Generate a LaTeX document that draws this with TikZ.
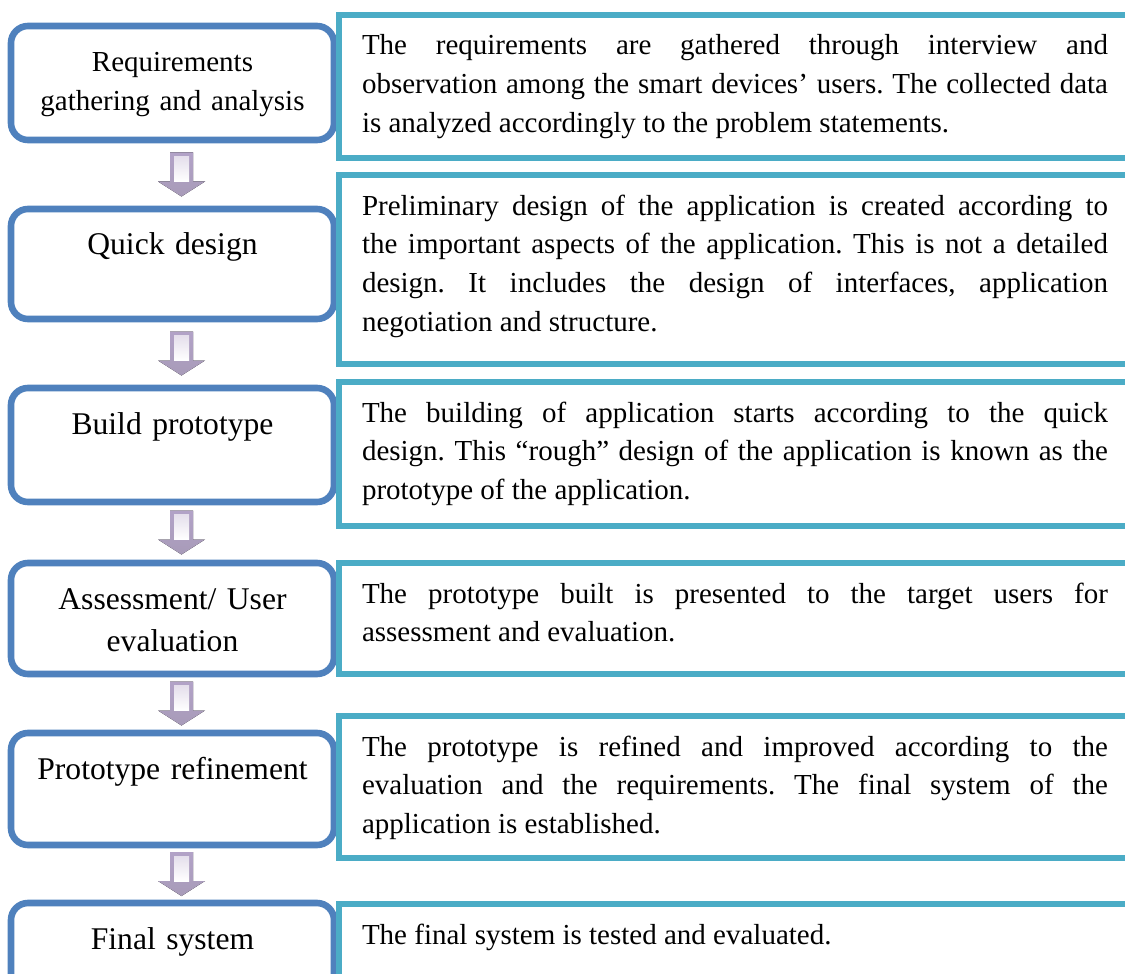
\documentclass[tikz,border=0pt]{standalone}
\usepackage{fontspec}
\setmainfont{Liberation Serif}[Ligatures={TeX,NoCommon}]
\usepackage{pgf,tikz}
\usetikzlibrary{calc,positioning}
\definecolor{stageblue}{RGB}{79,129,189}
\definecolor{noteteal}{RGB}{75,172,198}
\definecolor{arrowlav}{RGB}{178,162,199}
\hyphenpenalty=10000
\exhyphenpenalty=10000
\frenchspacing

\begin{document}
\begin{tikzpicture}[x=1pt,y=1pt]
    \tikzstyle{stage}=[rectangle, rounded corners=8.5pt, draw=stageblue, line width=3.3pt, fill=white, anchor=north west, outer sep=0pt, inner xsep=3pt, inner ysep=0pt, text width=155.5pt, align=center, text height=23pt, font=\fontsize{15.8}{21}\selectfont]
    \tikzstyle{note}=[rectangle, draw=noteteal, line width=3.3pt, fill=white, anchor=north west, outer sep=0pt, inner xsep=11.5pt, inner ysep=0pt, text width=373pt, align=justify, text height=20pt, font=\fontsize{14.5}{19.4}\selectfont]
    \tikzstyle{blockarrow}=[top color=arrowlav, bottom color=arrowlav!80!gray]

    \useasboundingbox (0,0) rectangle (562.5,-487);

    \node[stage, text depth=34pt, font=\fontsize{14.5}{19.5}\selectfont] (s1) at (5.5,-13) {Requirements\\gathering and analysis};
    \node[stage, text depth=32pt]   (s2) at (5.5,-104.5) {Quick design};
    \node[stage, text depth=34pt]   (s3) at (5.5,-194)   {Build prototype};
    \node[stage, text depth=32.5pt] (s4) at (5.5,-281.5) {Assessment/ User\\evaluation};
    \node[stage, text depth=33pt]   (s5) at (5.5,-366.5) {Prototype refinement};
    \node[stage, text depth=33pt]   (s6) at (5.5,-451.5) {Final system};

    \node[note, text depth=51.5pt] (n1) at (169.5,-7.5) {The requirements are gathered through interview and\linebreak observation among the smart devices’ users. The collected data\linebreak is analyzed accordingly to the problem statements.};
    \node[note, text depth=74.5pt] (n2) at (169.5,-87.5) {Preliminary design of the application is created according to\linebreak the important aspects of the application. This is not a detailed\linebreak design. It includes the design of interfaces, application\linebreak negotiation and structure.};
    \node[note, text depth=52pt]   (n3) at (169.5,-191) {The building of application starts according to the quick\linebreak design. This “rough” design of the application is known as the\linebreak prototype of the application.};
    \node[note, text depth=35.5pt] (n4) at (169.5,-281.5) {The prototype built is presented to the target users for\linebreak assessment and evaluation.};
    \node[note, text depth=51pt]   (n5) at (169.5,-358) {The prototype is refined and improved according to the\linebreak evaluation and the requirements. The final system of the\linebreak application is established.};
    \node[note, text depth=51pt]   (n6) at (169.5,-452) {The final system is tested and evaluated.};

    % block arrows between the stages
    \foreach \a/\b in {s1/s2,s2/s3,s3/s4,s4/s5,s5/s6}{
      \coordinate (m) at ($(\a.south)!.5!(\b.north)+(4.5,0)$);
      \fill[blockarrow] ($(m)+(-5.75,11)$) -- ++(11.5,0) -- ++(0,-14.5) -- ++(6,0) -- ($(m)+(0,-11)$) -- ($(m)+(-11.75,-3.5)$) -- ++(6,0) -- cycle;
      \fill[top color=arrowlav!35!white, bottom color=white] ($(m)+(-3.75,9)$) rectangle ($(m)+(3.75,-3.5)$);
    }
\end{tikzpicture}
\end{document}
